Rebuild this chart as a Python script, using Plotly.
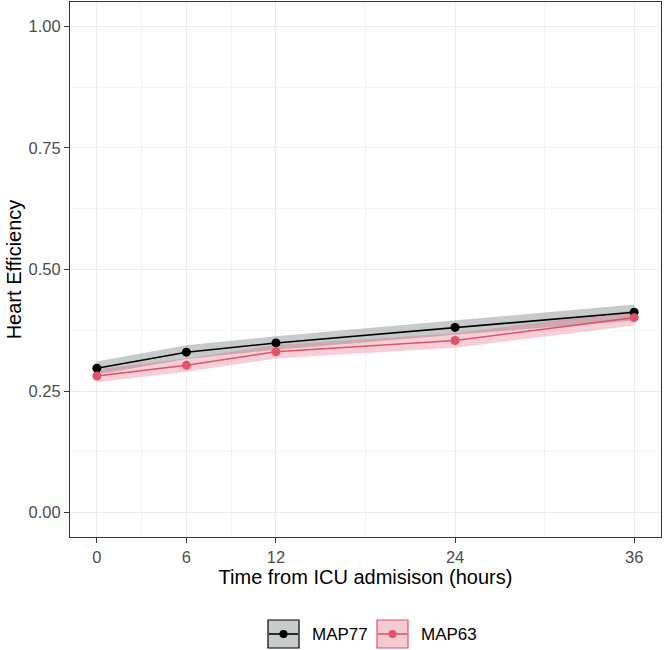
import plotly.graph_objects as go

hours = [0, 6, 12, 24, 36]
map77_mean = [0.297, 0.330, 0.349, 0.381, 0.412]
map77_lower = [0.284, 0.316, 0.335, 0.366, 0.395]
map77_upper = [0.311, 0.344, 0.363, 0.395, 0.428]
map63_mean = [0.281, 0.303, 0.331, 0.354, 0.401]
map63_lower = [0.268, 0.290, 0.317, 0.339, 0.385]
map63_upper = [0.295, 0.317, 0.345, 0.369, 0.416]
x_ticks = [0, 6, 12, 24, 36]
x_minor = [3, 9, 18, 30]
y_ticks = [0.0, 0.25, 0.5, 0.75, 1.0]
y_tick_labels = ["0.00", "0.25", "0.50", "0.75", "1.00"]
y_minor = [0.125, 0.375, 0.625, 0.875]
series_names = ["MAP77", "MAP63"]

FONT = "Liberation Sans, Arial, sans-serif"
styles = {
    "MAP77": dict(line="#000000", fill="rgba(120,128,128,0.42)", key="rgba(170,175,175,0.65)"),
    "MAP63": dict(line="#DF536B", fill="rgba(223,83,107,0.28)", key="rgba(223,83,107,0.3)"),
}
data = {
    "MAP77": (map77_mean, map77_lower, map77_upper),
    "MAP63": (map63_mean, map63_lower, map63_upper),
}

fig = go.Figure()
for name in series_names:
    m, lo, hi = data[name]
    st = styles[name]
    fig.add_trace(go.Scatter(x=hours, y=lo, mode="lines", line=dict(width=0),
                             showlegend=False, hoverinfo="skip"))
    fig.add_trace(go.Scatter(x=hours, y=hi, mode="lines", line=dict(width=0),
                             fill="tonexty", fillcolor=st["fill"], showlegend=False,
                             hoverinfo="skip"))
for name in series_names:
    m, lo, hi = data[name]
    st = styles[name]
    fig.add_trace(go.Scatter(x=hours, y=m, mode="lines+markers", name=name,
                             showlegend=False,
                             line=dict(color=st["line"], width=1.6),
                             marker=dict(color=st["line"], size=9)))

axis_common = dict(showline=True, linecolor="#333333", linewidth=1.2, mirror=True,
                   gridcolor="#EBEBEB", gridwidth=1.1, zeroline=False,
                   ticks="outside", tickcolor="#333333", ticklen=5, tickwidth=1.1,
                   tickfont=dict(family=FONT, size=16.5, color="#4D4D4D"))

fig.update_xaxes(range=[-1.8, 37.8], tickvals=x_ticks,
                 title=dict(text="Time from ICU admisison (hours)",
                            font=dict(family=FONT, size=20, color="#000000"),
                            standoff=3),
                 minor=dict(tickvals=x_minor, showgrid=True, gridcolor="#F3F3F3",
                            gridwidth=0.6, ticks=""),
                 **axis_common)
fig.update_yaxes(range=[-0.05, 1.05], tickvals=y_ticks, ticktext=y_tick_labels,
                 title=dict(text="Heart Efficiency",
                            font=dict(family=FONT, size=20, color="#000000"),
                            standoff=1),
                 minor=dict(tickvals=y_minor, showgrid=True, gridcolor="#F3F3F3",
                            gridwidth=0.6, ticks=""),
                 **axis_common)

# custom ggplot-style legend (paper coordinates of the plot area)
L, R, T, B = 70, 661, 2, 537
W, H = 664, 650
def px(xp):
    return (xp - L) / (R - L)
def py(yp):
    return (B - yp) / (B - T)

legend_pos = {"MAP77": (268, 310), "MAP63": (377, 419)}
for name in series_names:
    st = styles[name]
    kx, tx = legend_pos[name]
    fig.add_shape(type="rect", xref="paper", yref="paper",
                  x0=px(kx), x1=px(kx + 31), y0=py(648), y1=py(620),
                  fillcolor=st["key"], line=dict(color=st["line"], width=1.2))
    fig.add_shape(type="line", xref="paper", yref="paper",
                  x0=px(kx + 1), x1=px(kx + 30), y0=py(634), y1=py(634),
                  line=dict(color=st["line"], width=1.6))
    fig.add_shape(type="circle", xref="paper", yref="paper",
                  x0=px(kx + 11.5), x1=px(kx + 19.5), y0=py(638), y1=py(630),
                  fillcolor=st["line"], line=dict(color=st["line"], width=0))
    fig.add_annotation(xref="paper", yref="paper", x=px(tx), y=py(634),
                       xanchor="left", yanchor="middle", showarrow=False,
                       text=name, font=dict(family=FONT, size=17, color="#000000"))

fig.update_layout(
    width=W, height=H,
    margin=dict(l=L, r=W - R, t=T, b=H - B, pad=0),
    plot_bgcolor="white", paper_bgcolor="white",
    showlegend=False,
)

fig.write_html("out.html", config={"displayModeBar": False},
               post_script="document.body.style.margin='0';document.body.style.overflow='hidden';")
